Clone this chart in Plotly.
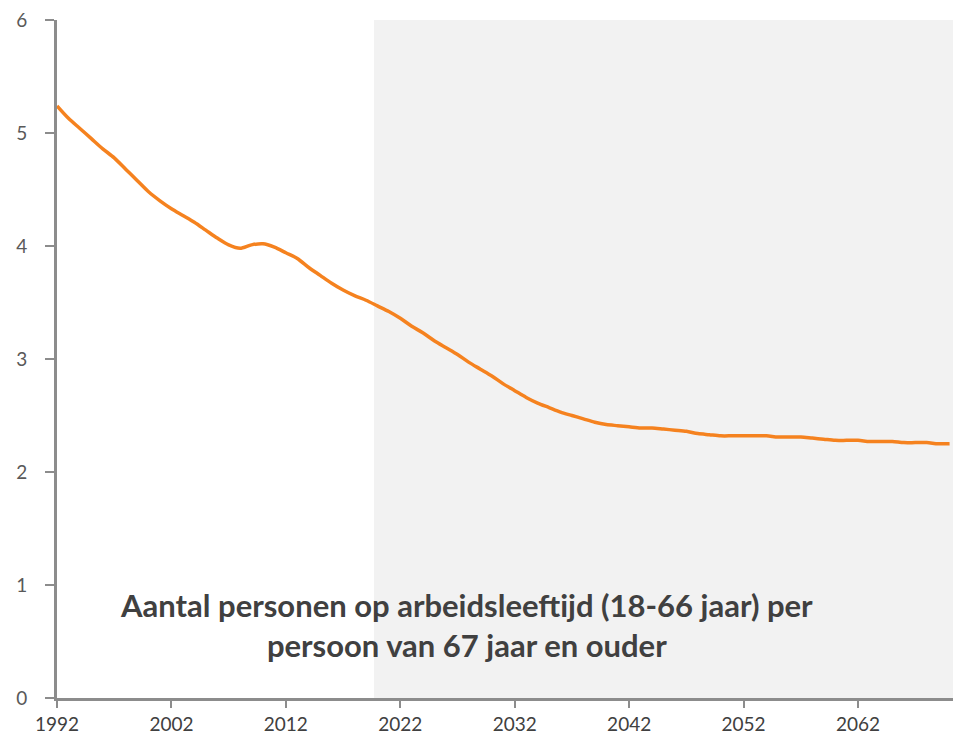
import plotly.graph_objects as go

years = list(range(1992, 2071))
ratio = [
    5.24, 5.13, 5.04, 4.95, 4.86, 4.78, 4.68, 4.58, 4.48, 4.40,   # 1992-2001
    4.33, 4.27, 4.21, 4.14, 4.07, 4.01, 3.98, 4.01, 4.02, 3.99,   # 2002-2011
    3.94, 3.89, 3.81, 3.74, 3.67, 3.61, 3.56, 3.52, 3.47, 3.42,   # 2012-2021
    3.36, 3.29, 3.23, 3.16, 3.10, 3.04, 2.97, 2.91, 2.85, 2.78,   # 2022-2031
    2.72, 2.66, 2.61, 2.57, 2.53, 2.50, 2.47, 2.44, 2.42, 2.41,   # 2032-2041
    2.40, 2.39, 2.39, 2.38, 2.37, 2.36, 2.34, 2.33, 2.32, 2.32,   # 2042-2051
    2.32, 2.32, 2.32, 2.31, 2.31, 2.31, 2.30, 2.29, 2.28, 2.28,   # 2052-2061
    2.28, 2.27, 2.27, 2.27, 2.26, 2.26, 2.26, 2.25, 2.25,         # 2062-2070
]
x_tick_vals = [1992, 2002, 2012, 2022, 2032, 2042, 2052, 2062]
y_tick_vals = [0, 1, 2, 3, 4, 5, 6]
forecast_start = 2019.7
x_end = 2070.3
annotation_text = "Aantal personen op arbeidsleeftijd (18-66 jaar) per<br>persoon van 67 jaar en ouder"

fig = go.Figure()
fig.add_trace(go.Scatter(
    x=years, y=ratio, mode="lines",
    line=dict(color="#F5821F", width=3.5, shape="spline", smoothing=0.8),
    showlegend=False, hoverinfo="skip",
))

fig.add_shape(type="rect", xref="x", yref="y",
              x0=forecast_start, x1=x_end, y0=0, y1=6,
              fillcolor="#F2F2F2", line=dict(width=0), layer="below")

fig.add_annotation(
    x=0.457, y=0.65, xref="paper", yref="y",
    text=annotation_text, showarrow=False,
    font=dict(family="Lato", size=31, color="#404040", weight="bold"),
    align="center",
)

axis_grey = "#8C8C8C"
fig.update_layout(
    width=953, height=734,
    margin=dict(l=57, r=0, t=20, b=36),
    paper_bgcolor="white", plot_bgcolor="white",
    font=dict(family="Lato", size=18, color="#595959"),
    xaxis=dict(
        range=[1992, x_end], tickvals=x_tick_vals,
        ticks="outside", ticklen=7, tickwidth=2, tickcolor=axis_grey,
        showline=True, linecolor=axis_grey, linewidth=3,
        showgrid=False, zeroline=False,
        tickfont=dict(color="#404040", size=19),
    ),
    yaxis=dict(
        range=[0, 6], tickvals=y_tick_vals,
        ticks="outside", ticklen=9, tickwidth=2, tickcolor=axis_grey,
        showline=True, linecolor=axis_grey, linewidth=3,
        showgrid=False, zeroline=False, ticklabelstandoff=14,
        tickfont=dict(color="#595959", size=19),
    ),
)

fig.write_html(
    "out.html",
    config={"displayModeBar": False},
    post_script="document.body.style.margin='0';document.body.style.overflow='hidden';",
)
